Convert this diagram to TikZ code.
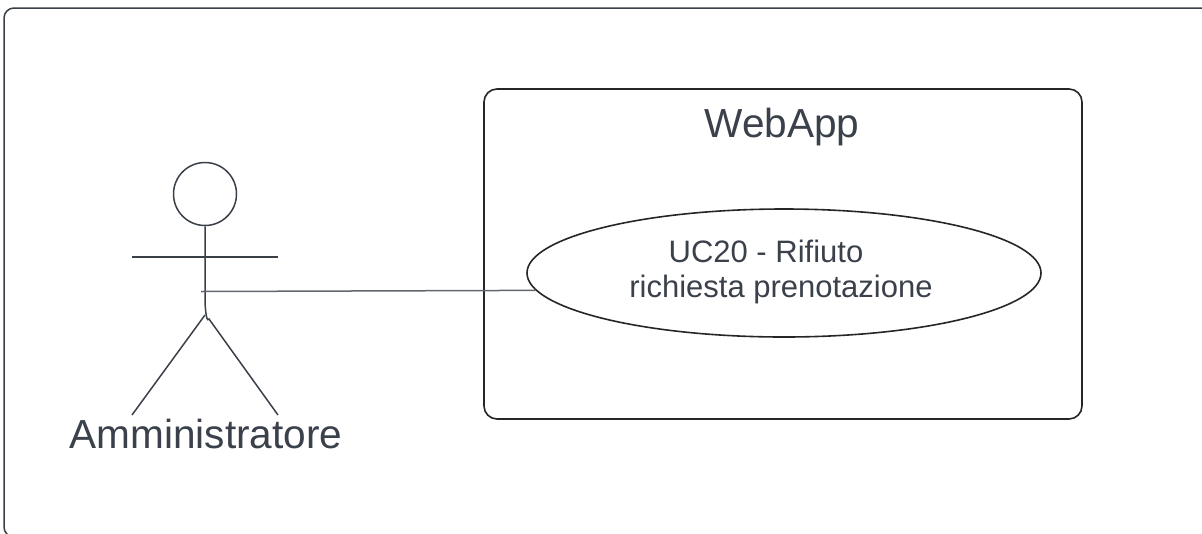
\documentclass[tikz,border=0pt]{standalone}
\usepackage{fontspec}
\setmainfont{Liberation Sans}
\usetikzlibrary{shapes.geometric}
\definecolor{framegray}{HTML}{3A4048}
\definecolor{textgray}{HTML}{3A414B}
\newlength{\unit}
\setlength{\unit}{0.75pt}
\tikzset{
  frameline/.style={draw=framegray,line width=1.5\unit,rounded corners=10\unit},
  boxline/.style={draw=black!85,line width=1.6\unit,rounded corners=13\unit},
  actorline/.style={draw=framegray,line width=1.5\unit},
  linkline/.style={draw=framegray!80,line width=1.5\unit},
  bigtext/.style={text=textgray,font=\fontsize{40.6\unit}{48\unit}\selectfont},
  usecase/.style={draw=black!85,line width=1.6\unit,shape=ellipse,minimum width=514\unit,minimum height=128\unit,inner sep=0pt},
  casetext/.style={align=center,text=textgray,font=\fontsize{31\unit}{35\unit}\selectfont},
}
\begin{document}
\begin{tikzpicture}[x=0.75pt,y=-0.75pt]
        \useasboundingbox (0,0) rectangle (1202,533);
        % outer frame runs off the page on the right and at the bottom
        \draw[frameline] (4,537) rectangle (1215,8);
        \draw[boxline] (484,89) rectangle (1082,419);
        \node[bigtext] (webapp) at (782,127) {WebApp};
        \node[usecase] (uc) at (784,273) {};
        \node[casetext] (uclabel) at (781,272) {\hspace*{-30\unit}UC20 - Rifiuto\\richiesta prenotazione};
        % actor
        \node[draw=framegray,line width=1.5\unit,shape=circle,minimum size=63\unit,inner sep=0pt] (head) at (205,194) {};
        \coordinate (hip) at (205,303);
        \coordinate (crotch) at (205,315);
        \coordinate (armL) at (132,257);
        \coordinate (armR) at (278,257);
        \coordinate (footL) at (132,415);
        \coordinate (footR) at (278,415);
        \coordinate (link) at (201,291.5);
        \draw[actorline] (armL) -- (armR);
        \draw[actorline] (head.south) -- (hip) to[out=90,in=-125] (209,319) -- (footR);
        \draw[actorline] (crotch) -- (footL);
        \node[bigtext] (actor) at (206,434) {Amministratore};
        \draw[linkline] (link) -- (uc.184.2);
      \end{tikzpicture}
\end{document}
